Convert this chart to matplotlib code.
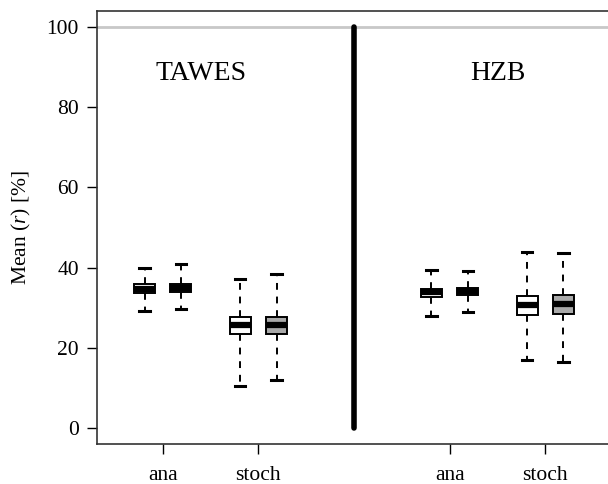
import matplotlib
matplotlib.use("Agg")
import matplotlib.pyplot as plt

plt.rcParams['font.family'] = ['Liberation Serif', 'DejaVu Serif']
plt.rcParams['mathtext.fontset'] = 'custom'
plt.rcParams['mathtext.rm'] = 'Liberation Serif'
plt.rcParams['mathtext.it'] = 'Liberation Serif:italic'

groups = ["TAWES", "HZB"]
categories = ["ana", "stoch", "ana", "stoch"]
cat_pos = [1, 2, 4, 5]
divider_pos = 3
# per box: (whislo, q1, med, q3, whishi); order: TAWES ana, TAWES stoch, HZB ana, HZB stoch
white_stats = [
    (29.2, 33.7, 34.7, 35.9, 39.9),
    (10.5, 23.4, 25.6, 27.8, 37.2),
    (28.0, 32.7, 33.8, 34.7, 39.4),
    (16.9, 28.1, 30.6, 32.9, 44.0),
]
grey_stats = [
    (29.7, 33.8, 34.9, 36.0, 40.9),
    (12.0, 23.4, 25.6, 27.8, 38.4),
    (28.9, 33.1, 34.1, 35.0, 39.2),
    (16.5, 28.4, 30.9, 33.2, 43.6),
]
group_label_x = [1.4, 4.5]
group_label_y = 88.5

fig = plt.figure(figsize=(6.08, 4.84), dpi=100)
ax = fig.add_axes([97/608, 1-444/484, (611-97)/608, (444-11)/484])

def mk(stats):
    return [dict(whislo=s[0], q1=s[1], med=s[2], q3=s[3], whishi=s[4], fliers=[]) for s in stats]

off = 0.19
for stats, sign, fc in [(white_stats, -1, 'white'), (grey_stats, 1, '#A9A9A9')]:
    pos = [p + sign*off for p in cat_pos]
    ax.bxp(mk(stats), positions=pos, widths=0.22, patch_artist=True, showfliers=False,
           boxprops=dict(facecolor=fc, edgecolor='black', linewidth=1.4),
           medianprops=dict(color='black', linewidth=4.5, solid_capstyle='butt'),
           whiskerprops=dict(color='black', linewidth=1.4, linestyle=(0, (3.5, 3.5))),
           capprops=dict(color='black', linewidth=2.2),
           capwidths=0.11, zorder=3)

ax.axhline(100, color='#C8C8C8', linewidth=2, zorder=1)
ax.plot([divider_pos, divider_pos], [0, 100], color='black', linewidth=4,
        solid_capstyle='round', zorder=2)

for g, gx in zip(groups, group_label_x):
    ax.text(gx, group_label_y, g, ha='center', va='center', fontsize=20)

ax.set_xlim(0.3125, 5.6875)
ax.set_ylim(-4, 104)
ax.set_xticks(cat_pos)
ax.set_xticklabels(categories, fontsize=15.5)
ax.set_yticks([0, 20, 40, 60, 80, 100])
ax.set_yticklabels(['0', '20', '40', '60', '80', '100'], fontsize=15.5)
ax.tick_params(axis='both', direction='out', length=7, width=1, pad=6)
ax.tick_params(axis='x', pad=9)
for sp in ax.spines.values():
    sp.set_linewidth(1.2)
    sp.set_color('#333333')
ax.set_ylabel('Mean ($r$) [%]', fontsize=15.5)
ax.yaxis.set_label_coords(-0.124, 0.5)

fig.savefig('out.png', dpi=100)
